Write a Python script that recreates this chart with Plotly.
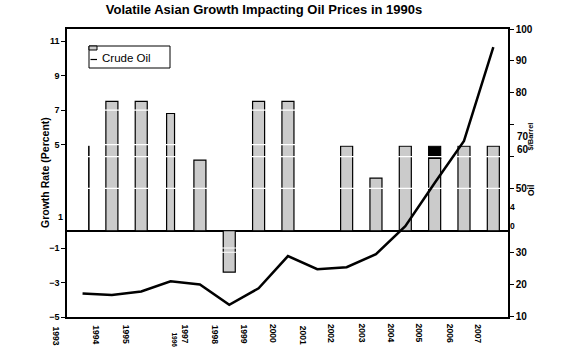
import plotly.graph_objects as go

# ---------------- data ----------------
periods = list(range(15))
growth_rate = [4.9, 7.5, 7.5, 6.8, 4.1, -2.4, 7.5, 7.5, 0.0, 4.9, 3.05, 4.9, 4.2, 4.9, 4.9]
growth_rate_top = [None, None, None, None, None, None, None, None, None, None, None, None, 0.7, None, None]
crude_oil = [17.1, 16.6, 17.7, 20.9, 19.9, 13.5, 18.7, 28.8, 24.7, 25.3, 29.4, 38.2, 51.7, 64.9, 94.3]
year_labels = ["1993", "1994", "1995", "1996", "1997", "1998", "1999", "2000",
               "2001", "2002", "2003", "2004", "2005", "2006", "2007"]
left_ticks = [-5, -3, -1, 5, 7, 9, 11]
right_ticks = [10, 20, 30, 50, 60, 70, 80, 90, 100]
right_tick_text = ["10", "20", "30", "50", "", "", "80", "90", "100"]

# ---------------- layout helpers ----------------
W, H = 567, 350
L, R, T, B = 67, 508, 29, 317
FONT = "Arial, Liberation Sans, sans-serif"
X_RANGE = [-0.53, 14.5]


def fx(px):
    return (px - L) / (R - L)


def fy(py):
    return (B - py) / (B - T)


bar_widths = [0.01] + [0.41] * 14
bar_widths[3] = 0.27
bar_offsets = [-w / 2 for w in bar_widths]
bar_offsets[0] = 0.21
bar_colors = ["black"] + ["#cbcbcb"] * 14

fig = go.Figure()

fig.add_trace(go.Bar(
    x=periods, y=growth_rate, width=bar_widths, offset=bar_offsets,
    marker=dict(color=bar_colors, line=dict(color="black", width=1.2)),
    showlegend=False, yaxis="y"))
fig.add_trace(go.Bar(
    x=periods, y=growth_rate_top, width=bar_widths, offset=bar_offsets,
    marker=dict(color="black", line=dict(color="black", width=1.2)),
    showlegend=False, yaxis="y"))

# white grid lines drawn over the bars
gx, gy = [], []
for v in [7, 5, -1]:
    gx += [X_RANGE[0], X_RANGE[1], None]
    gy += [v, v, None]
fig.add_trace(go.Scatter(x=gx, y=gy, mode="lines", line=dict(color="white", width=1.2),
                         hoverinfo="skip", showlegend=False, yaxis="y"))
gx2, gy2 = [], []
for v in [60, 50, 30]:
    gx2 += [X_RANGE[0], X_RANGE[1], None]
    gy2 += [v, v, None]
fig.add_trace(go.Scatter(x=gx2, y=gy2, mode="lines", line=dict(color="white", width=1.2),
                         hoverinfo="skip", showlegend=False, yaxis="y2"))

fig.add_trace(go.Scatter(
    x=periods, y=crude_oil, mode="lines", name="Crude Oil",
    line=dict(color="black", width=2.5), showlegend=False, yaxis="y2"))

annotations = []
# year labels (irregular positions as in the original)
year_px = [(56, 324, 8.5), (96.3, 323, 8.5), (126.7, 323, 8.5), (174, 330, 6.5),
           (184.5, 322.5, 8.5), (215, 322.5, 8.5), (243.5, 322.5, 8.5), (272.3, 321.7, 8.5),
           (303, 323.3, 8.5), (330.3, 321.7, 8.5), (361.7, 321.7, 8.5), (390.8, 321.7, 8.5),
           (418.8, 321.7, 8.5), (449.5, 321.7, 8.5), (478, 321.7, 8.5)]
for lab, (px, py, sz) in zip(year_labels, year_px):
    annotations.append(dict(text=lab, x=fx(px), y=fy(py), xref="paper", yref="paper",
                            xanchor="center", yanchor="top", textangle=90, showarrow=False,
                            font=dict(size=sz, weight="bold", family=FONT)))

annotations += [
    dict(text="Growth Rate (Percent)", x=fx(37), y=fy(173), xref="paper", yref="paper",
         textangle=-90, showarrow=False, font=dict(size=10.5, weight="bold", family=FONT)),
    dict(text="$/Barrel", x=fx(536), y=fy(137), xref="paper", yref="paper",
         textangle=-90, showarrow=False, font=dict(size=7.5, weight="bold", family=FONT)),
    dict(text="Oil", x=fx(538), y=fy(191), xref="paper", yref="paper",
         textangle=-90, showarrow=False, font=dict(size=8.5, weight="bold", family=FONT)),
    dict(text="1", x=fx(56), y=fy(224), xref="paper", yref="paper", showarrow=False,
         font=dict(size=9, weight="bold", family=FONT)),
    dict(text="70", x=fx(515), y=fy(136), xref="paper", yref="paper", xanchor="left",
         showarrow=False, font=dict(size=10, weight="bold", family=FONT)),
    dict(text="60", x=fx(515), y=fy(149), xref="paper", yref="paper", xanchor="left",
         showarrow=False, font=dict(size=10, weight="bold", family=FONT)),
    dict(text="4", x=fx(509), y=fy(207), xref="paper", yref="paper", xanchor="left",
         yanchor="middle", borderpad=0, showarrow=False,
         font=dict(size=8.5, weight="bold", family=FONT)),
    dict(text="0", x=fx(509), y=fy(226), xref="paper", yref="paper", xanchor="left",
         yanchor="middle", borderpad=0, showarrow=False,
         font=dict(size=8.5, weight="bold", family=FONT)),
    dict(text="Crude Oil", x=fx(100), y=fy(58), xref="paper", yref="paper", xanchor="left",
         yanchor="middle", showarrow=False, font=dict(size=11.5, family=FONT)),
]

shapes = [
    dict(type="rect", xref="paper", yref="paper", x0=fx(89), x1=fx(170), y0=fy(68), y1=fy(46),
         line=dict(color="black", width=1), fillcolor="white", layer="above"),
    dict(type="rect", xref="paper", yref="paper", x0=fx(89), x1=fx(97), y0=fy(50), y1=fy(46),
         line=dict(color="black", width=1), fillcolor="#cbcbcb", layer="above"),
    dict(type="line", xref="paper", yref="paper", x0=fx(90.5), x1=fx(97), y0=fy(59.5), y1=fy(59.5),
         line=dict(color="black", width=1.2), layer="above"),
]

fig.update_layout(
    width=W, height=H,
    margin=dict(l=L, r=W - R, t=T, b=H - B, pad=0),
    paper_bgcolor="white", plot_bgcolor="white",
    font=dict(family=FONT, color="black"),
    barmode="relative",
    title=dict(text="<b>Volatile Asian Growth Impacting Oil Prices in 1990s</b>",
               x=264 / W, xanchor="center", y=1 - 9 / H, yanchor="middle",
               font=dict(size=13, family=FONT, color="black")),
    xaxis=dict(range=X_RANGE, showline=True, mirror=True, linecolor="black", linewidth=1.5,
               showticklabels=False, ticks="", showgrid=False, zeroline=False),
    yaxis=dict(range=[-5, 11.7], tickvals=left_ticks, ticks="outside", ticklen=4,
               tickcolor="black", showline=True, linecolor="black", linewidth=1.5,
               showgrid=False, zeroline=True, zerolinecolor="black", zerolinewidth=1.5,
               tickfont=dict(size=9, weight="bold", family=FONT)),
    yaxis2=dict(range=[9.7, 100.0], overlaying="y", side="right", tickvals=right_ticks,
                ticktext=right_tick_text, ticks="outside", ticklen=4, tickcolor="black",
                showline=True, linecolor="black", linewidth=1.5, showgrid=False,
                zeroline=False, tickfont=dict(size=10, weight="bold", family=FONT)),
    annotations=annotations,
    shapes=shapes,
    showlegend=False,
)

fig.write_html("out.html")
